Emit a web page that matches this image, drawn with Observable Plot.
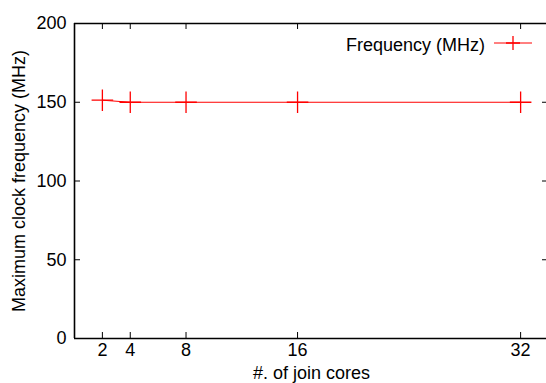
<!DOCTYPE html>
<html>
<head>
<meta charset="utf-8">
<script src="https://cdn.jsdelivr.net/npm/d3@7"></script>
<script src="https://cdn.jsdelivr.net/npm/@observablehq/plot@0.6"></script>
<style>
  html, body { margin: 0; padding: 0; background: #fff; }
  #wrap { width: 546px; height: 383px; overflow: hidden; }
</style>
</head>
<body>
<div id="wrap"></div>
<script>
const cores = [2, 4, 8, 16, 32];
const frequency = [151.3, 150, 150, 150, 150];
const xTicks = [2, 4, 8, 16, 32];
const yTicks = [0, 50, 100, 150, 200];
const xDomain = [0, 34];
const yDomain = [0, 200];
const seriesName = "Frequency (MHz)";
const xLabel = "#. of join cores";
const yLabel = "Maximum clock frequency (MHz)";

const data = cores.map((c, i) => ({cores: c, freq: frequency[i]}));

const W = 546, H = 383, mT = 23, mB = 45, mL = 74, mR = -2;
const innerH = H - mT - mB;
const innerW = W - mL - mR;
const tickLen = 6;

const chart = Plot.plot({
  width: W,
  height: H,
  marginTop: mT,
  marginBottom: mB,
  marginLeft: mL,
  marginRight: mR,
  style: {fontFamily: "Liberation Sans, Arial, sans-serif", fontSize: "18px", background: "#fff", color: "#000", overflow: "visible"},
  x: {domain: xDomain},
  y: {domain: yDomain},
  marks: [
    Plot.axisX({ticks: xTicks, tickSize: 0, tickPadding: 5, fontSize: 18, label: xLabel, labelAnchor: "center", labelOffset: 40, labelArrow: "none"}),
    Plot.axisY({ticks: yTicks, tickSize: 0, tickPadding: 8, fontSize: 18, label: yLabel, labelAnchor: "center", labelOffset: 62, labelArrow: "none"}),
    // inward ticks bottom/top
    Plot.tickX(xTicks, {x: d => d, insetTop: innerH - tickLen, stroke: "#000", strokeWidth: 1}),
    Plot.tickX(xTicks, {x: d => d, insetBottom: innerH - tickLen, stroke: "#000", strokeWidth: 1}),
    // inward ticks left/right
    Plot.tickY(yTicks, {y: d => d, insetRight: innerW - tickLen, stroke: "#000", strokeWidth: 1}),
    Plot.tickY(yTicks, {y: d => d, insetLeft: innerW - tickLen, stroke: "#000", strokeWidth: 1}),
    Plot.line(data, {x: "cores", y: "freq", stroke: "#ff0000", strokeWidth: 1}),
    Plot.dot(data, {x: "cores", y: "freq", symbol: "plus", r: 7, stroke: "#ff0000", strokeWidth: 1.3}),
    // border drawn as full-length ticks at the domain ends
    Plot.tickX(xDomain, {x: d => d, stroke: "#000", strokeWidth: 1.6}),
    Plot.tickY(yDomain, {y: d => d, stroke: "#000", strokeWidth: 1.6})
  ]
});
document.getElementById("wrap").appendChild(chart);

// legend, drawn inside the same SVG
const right = W - mR;
const lg = d3.select(chart).append("g").attr("aria-label", "legend");
lg.append("text")
  .attr("x", right - 63).attr("y", mT + 27.5)
  .attr("text-anchor", "end")
  .attr("font-size", 18)
  .attr("font-family", "Liberation Sans, Arial, sans-serif")
  .attr("fill", "#000")
  .text(seriesName);
lg.append("line")
  .attr("x1", right - 54).attr("x2", right - 16)
  .attr("y1", mT + 20).attr("y2", mT + 20)
  .attr("stroke", "#ff0000").attr("stroke-width", 1);
lg.append("path")
  .attr("d", `M${right - 42},${mT + 20}h14M${right - 35},${mT + 13}v14`)
  .attr("stroke", "#ff0000").attr("stroke-width", 1.3).attr("fill", "none");
</script>
</body>
</html>
